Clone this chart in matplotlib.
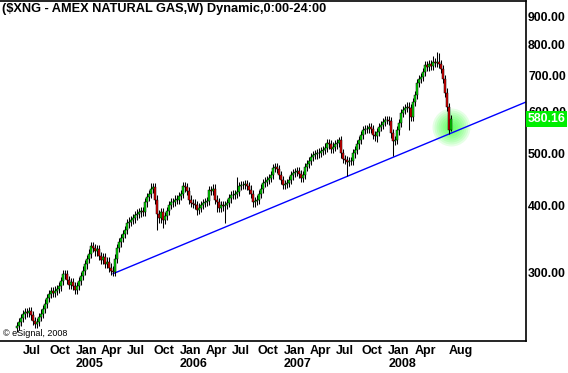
import datetime as dt
import matplotlib
matplotlib.use('Agg')
import matplotlib.pyplot as plt
import matplotlib.dates as mdates
from matplotlib.ticker import FixedLocator, NullLocator, FuncFormatter

# weekly closes of $XNG, first bar = week ending 2004-06-11
first_week = dt.date(2004, 6, 11)
first_open = 236
closes = [
    238, 242, 246, 250, 253, 252, 254, 249, 243, 240,
    242, 247, 251, 256, 262, 268, 273, 276, 274, 277,
    279, 282, 289, 298, 297, 290, 284, 287, 283, 278,
    283, 289, 295, 302, 310, 317, 325, 336, 333, 328,
    331, 322, 316, 320, 311, 314, 306, 302, 300, 318,
    333, 341, 347, 354, 360, 370, 373, 376, 378, 383,
    386, 388, 390, 389, 405, 415, 420, 430, 432, 410,
    385, 378, 388, 376, 382, 390, 400, 405, 406, 410,
    410, 416, 420, 435, 432, 426, 410, 404, 403, 400,
    392, 396, 400, 404, 406, 408, 427, 426, 430, 410,
    405, 396, 400, 398, 401, 404, 412, 418, 419, 420,
    424, 434, 437, 436, 438, 435, 428, 420, 405, 407,
    410, 420, 430, 440, 443, 446, 450, 456, 470, 472,
    468, 456, 446, 436, 438, 440, 446, 455, 460, 462,
    463, 458, 450, 456, 472, 478, 484, 492, 496, 498,
    500, 502, 505, 508, 513, 522, 520, 510, 515, 520,
    523, 530, 500, 488, 486, 482, 484, 484, 500, 508,
    520, 530, 541, 553, 556, 555, 560, 556, 542, 538,
    548, 560, 565, 572, 577, 577, 575, 545, 528, 530,
    552, 570, 595, 602, 608, 612, 608, 585, 624, 643,
    677, 690, 695, 710, 731, 725, 735, 728, 740, 738,
    742, 735, 720, 690, 650, 610, 553, 580.16]

# weeks with long shadows (bar index -> price)
long_highs = {23: 303, 67: 440, 110: 452, 161: 536, 205: 745, 208: 762, 210: 775, 211: 770}
long_lows = {70: 360, 73: 363, 90: 384, 100: 389, 104: 371, 165: 453, 180: 525,
             188: 495, 196: 553, 217: 550}

trend_start = (dt.date(2005, 5, 13), 298)
trend_end = (dt.date(2009, 4, 27), 624)

month_ticks = ['2004-07-01', '2004-10-01', '2005-01-01', '2005-04-01', '2005-07-01',
               '2005-10-01', '2006-01-01', '2006-04-01', '2006-07-01', '2006-10-01',
               '2007-01-01', '2007-04-01', '2007-07-01', '2007-10-01', '2008-01-01',
               '2008-04-01', '2008-08-01']
month_labels = ['Jul', 'Oct', 'Jan', 'Apr', 'Jul', 'Oct', 'Jan', 'Apr', 'Jul',
                'Oct', 'Jan', 'Apr', 'Jul', 'Oct', 'Jan', 'Apr', 'Aug']
year_ticks = ['2005-01-01', '2006-01-01', '2007-01-01', '2008-01-01']
year_labels = ['2005', '2006', '2007', '2008']
price_ticks = [300, 400, 500, 600, 700, 800, 900]

FONT = 'Liberation Sans'
UP, DOWN = '#00dd00', '#e00000'


def to_num(days):
    return mdates.date2num([dt.date.fromisoformat(d) for d in days])


def main():
    plt.rcParams['font.family'] = FONT
    fig = plt.figure(figsize=(5.68, 3.73), dpi=100)
    ax = fig.add_axes([0.0, 0.0858, 0.926, 0.9115])

    x = mdates.date2num([first_week + dt.timedelta(weeks=i) for i in range(len(closes))])
    opens = [first_open] + closes[:-1]
    wick = 1.018
    for i, (o, c) in enumerate(zip(opens, closes)):
        lo_b, hi_b = min(o, c), max(o, c)
        hi = long_highs.get(i, hi_b * wick)
        lo = long_lows.get(i, lo_b / wick)
        ax.vlines(x[i], lo, hi, color='black', lw=0.75, zorder=3)
        ax.bar(x[i], max(hi_b - lo_b, 1.0), bottom=lo_b, width=9,
               color=UP if c >= o else DOWN, edgecolor='black', linewidth=0.35, zorder=4)

    # glow on last bar
    for r in range(19, 2, -2):
        ax.scatter([x[-1]], [560], s=(1.44 * r) ** 2, color='#22ff22', alpha=0.11,
                   lw=0, zorder=1)

    tx = mdates.date2num([trend_start[0], trend_end[0]])
    ax.plot(tx, [trend_start[1], trend_end[1]], color='#0000ff', lw=1.0, zorder=2)

    ax.set_yscale('log')
    ax.set_ylim(223, 964)
    ax.set_xlim(mdates.date2num(dt.date(2004, 4, 12)), tx[1])
    ax.yaxis.set_major_locator(FixedLocator(price_ticks))
    ax.yaxis.set_minor_locator(NullLocator())
    ax.yaxis.set_major_formatter(FuncFormatter(lambda v, p: '%.2f' % v))
    ax.yaxis.tick_right()
    ax.tick_params(axis='y', length=0, pad=1.5, labelsize=8.8)
    for lab in ax.get_yticklabels():
        lab.set_fontweight('bold')

    ax.set_xticks(to_num(month_ticks))
    ax.set_xticklabels(month_labels, ha='left', fontweight='bold', fontsize=9)
    ax.xaxis.set_minor_locator(NullLocator())
    ax.tick_params(axis='x', length=0, pad=3)

    years = ax.secondary_xaxis('bottom')
    years.set_xticks(to_num(year_ticks))
    years.set_xticklabels(year_labels, ha='left', fontweight='bold', fontsize=9)
    years.tick_params(axis='x', length=0, pad=12.5)
    years.spines['bottom'].set_visible(False)

    ax.spines['left'].set_visible(False)
    for s in ('top', 'right', 'bottom'):
        ax.spines[s].set_linewidth(1.2)

    ax.text(0.003, 0.995, '($XNG - AMEX NATURAL GAS,W) Dynamic,0:00-24:00',
            transform=ax.transAxes, ha='left', va='top', fontsize=9.2, fontweight='bold')
    ax.text(0.006, 0.022, '\u00a9 eSignal, 2008', transform=ax.transAxes,
            ha='left', va='center', fontsize=6.5)

    ax.text(1.003, closes[-1], '%.2f' % closes[-1], transform=ax.get_yaxis_transform(),
            ha='left', va='center', fontsize=8.8, fontweight='bold', color='white',
            clip_on=False, zorder=10,
            bbox=dict(boxstyle='square,pad=0.15', fc='#00ee00', ec='none'))

    fig.savefig('out.png', dpi=100)


if __name__ == '__main__':
    main()
